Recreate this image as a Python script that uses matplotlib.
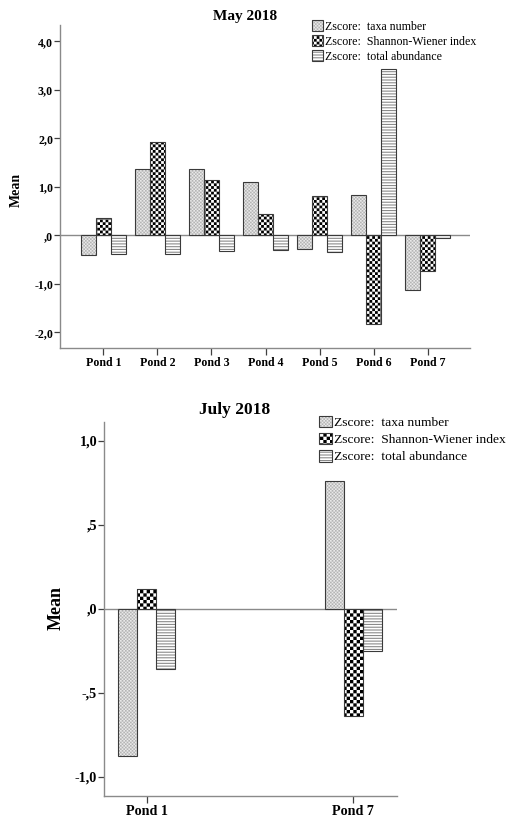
import warnings
import numpy as np
import matplotlib
matplotlib.use("Agg")
import matplotlib.pyplot as plt
import matplotlib.hatch as mhatch
from matplotlib.path import Path
from matplotlib.patches import Patch
from matplotlib.legend_handler import HandlerTuple

warnings.filterwarnings("ignore")

# ---------------- data ----------------
series_labels = ["Zscore:  taxa number", "Zscore:  Shannon-Wiener index", "Zscore:  total abundance"]

may_ponds = ["Pond 1", "Pond 2", "Pond 3", "Pond 4", "Pond 5", "Pond 6", "Pond 7"]
may_taxa = [-0.40, 1.375, 1.375, 1.10, -0.27, 0.84, -1.13]
may_shannon = [0.36, 1.93, 1.14, 0.45, 0.82, -1.82, -0.73]
may_abundance = [-0.38, -0.39, -0.32, -0.30, -0.35, 3.44, -0.05]
may_yticks = [-2, -1, 0, 1, 2, 3, 4]
may_yticklabels = ["-2,0", "-1,0", ",0", "1,0", "2,0", "3,0", "4,0"]

july_ponds = ["Pond 1", "Pond 7"]
july_taxa = [-0.873, 0.762]
july_shannon = [0.119, -0.637]
july_abundance = [-0.357, -0.248]
july_yticks = [-1.0, -0.5, 0.0, 0.5, 1.0]
july_yticklabels = ["-1,0", "-,5", ",0", ",5", "1,0"]


# ---------------- custom fill patterns ----------------
class CheckerHatch(mhatch.HatchPatternBase):
    """Filled checkerboard; 'c' repeated k times gives 2k cells per tile."""

    def __init__(self, hatch, density):
        self.n = 2 * hatch.count("c")
        self.num_vertices = (self.n * self.n // 2) * 5 if self.n else 0

    def set_vertices_and_codes(self, vertices, codes):
        n = self.n
        verts, cds = [], []
        for i in range(n):
            for j in range(n):
                if (i + j) % 2 == 0:
                    x0, y0, x1, y1 = j / n, i / n, (j + 1) / n, (i + 1) / n
                    verts += [(x0, y0), (x1, y0), (x1, y1), (x0, y1), (x0, y0)]
                    cds += [Path.MOVETO, Path.LINETO, Path.LINETO, Path.LINETO, Path.CLOSEPOLY]
        vertices[:] = np.array(verts)
        codes[:] = np.array(cds)


class StripeHatch(mhatch.HatchPatternBase):
    """Filled thin horizontal stripes; 'r' repeated k times gives 6k stripes per tile."""

    def __init__(self, hatch, density):
        self.n = 6 * hatch.count("r")
        self.num_vertices = self.n * 5

    def set_vertices_and_codes(self, vertices, codes):
        n = self.n
        t = 0.011
        verts, cds = [], []
        for i in range(n):
            y0 = i / n
            verts += [(0, y0), (1, y0), (1, y0 + t), (0, y0 + t), (0, y0)]
            cds += [Path.MOVETO, Path.LINETO, Path.LINETO, Path.LINETO, Path.CLOSEPOLY]
        vertices[:] = np.array(verts)
        codes[:] = np.array(cds)


mhatch._hatch_types.append(CheckerHatch)
mhatch._hatch_types.append(StripeHatch)

plt.rcParams["hatch.linewidth"] = 0.0
plt.rcParams["font.family"] = ["Liberation Serif", "DejaVu Serif"]

OUTLINE = "#3a3a3a"
SPINE = "#8a8a8a"
TICK = "#404040"


def styles(checker_hatch, stipple_hatch):
    # (face colour, pattern colour, hatch) for the three series
    return [
        ("#e9e9e9", "#b4b4b4", stipple_hatch),
        ("#ffffff", "#000000", checker_hatch),
        ("#ffffff", "#8a8a8a", "rrrrrr"),
    ]


def draw_panel(ax, cats, series, width, xlim, ylim, yticks, yticklabels,
               tick_fs, checker_hatch, stipple_hatch):
    x = np.arange(len(cats))
    offsets = [-width, 0.0, width]
    ax.axhline(0, color=SPINE, lw=1.0, zorder=1)
    for vals, off, (face, pat, hatch) in zip(series, offsets, styles(checker_hatch, stipple_hatch)):
        ax.bar(x + off, vals, width, color=face, edgecolor=pat, hatch=hatch,
               linewidth=0, zorder=2)
        ax.bar(x + off, vals, width, fill=False, edgecolor=OUTLINE,
               linewidth=0.8, zorder=3)
    ax.set_xlim(*xlim)
    ax.set_ylim(*ylim)
    ax.set_xticks(x)
    ax.set_xticklabels(cats, fontsize=tick_fs, fontweight="bold")
    ax.set_yticks(yticks)
    ax.set_yticklabels(yticklabels, fontsize=tick_fs, fontweight="bold")
    for s in ("top", "right"):
        ax.spines[s].set_visible(False)
    for s in ("left", "bottom"):
        ax.spines[s].set_color(SPINE)
        ax.spines[s].set_linewidth(1.0)
    ax.tick_params(axis="y", direction="out", length=4.5, width=0.9, color=TICK, pad=0.5)
    ax.tick_params(axis="x", direction="out", length=5, width=0.9, color=TICK, pad=1.5)


def legend_handles(checker_hatch, stipple_hatch):
    hs = []
    for face, pat, hatch in styles(checker_hatch, stipple_hatch):
        hs.append((Patch(facecolor=face, edgecolor=pat, hatch=hatch, linewidth=0),
                   Patch(fill=False, edgecolor=OUTLINE, linewidth=0.8)))
    return hs


W, H = 511, 821
fig = plt.figure(figsize=(W / 100, H / 100), dpi=100)

# ---- May 2018 ----
ax1 = fig.add_axes([60 / W, 1 - 348 / H, 410 / W, 323 / H])
draw_panel(ax1, may_ponds, [may_taxa, may_shannon, may_abundance], 0.278,
           (-0.8, 6.78), (-2.32, 4.34), may_yticks, may_yticklabels, 8.6,
           "c" * 18, "c" * 30)
fig.text(245 / W, 1 - 16.7 / H, "May 2018", ha="center", va="center",
         fontsize=11, fontweight="bold")
fig.text(16.5 / W, 1 - 190 / H, "Mean", ha="center", va="center", rotation=90,
         fontsize=10, fontweight="bold")
ax1.legend(legend_handles("c" * 18, "c" * 30), series_labels,
           handler_map={tuple: HandlerTuple(ndivide=1)},
           loc="upper left", bbox_to_anchor=(311.5 / W, 1 - 20.5 / H),
           bbox_transform=fig.transFigure, frameon=False, borderpad=0,
           borderaxespad=0, fontsize=8.6, handlelength=0.95, handleheight=0.95,
           handletextpad=0.15, labelspacing=0.22)

# ---- July 2018 ----
ax2 = fig.add_axes([104 / W, 1 - 796 / H, 292.7 / W, 373.7 / H])
draw_panel(ax2, july_ponds, [july_taxa, july_shannon, july_abundance], 0.0925,
           (-0.2065, 1.21), (-1.113, 1.111), july_yticks, july_yticklabels, 10.2,
           "c" * 15, "c" * 30)
fig.text(235 / W, 1 - 410 / H, "July 2018", ha="center", va="center",
         fontsize=12.5, fontweight="bold")
fig.text(56 / W, 1 - 608 / H, "Mean", ha="center", va="center", rotation=90,
         fontsize=13, fontweight="bold")
ax2.legend(legend_handles("c" * 15, "c" * 30), series_labels,
           handler_map={tuple: HandlerTuple(ndivide=1)},
           loc="upper left", bbox_to_anchor=(319 / W, 1 - 415.5 / H),
           bbox_transform=fig.transFigure, frameon=False, borderpad=0,
           borderaxespad=0, fontsize=9.7, handlelength=0.95, handleheight=0.95,
           handletextpad=0.15, labelspacing=0.28)

fig.savefig("out.png", dpi=100)
